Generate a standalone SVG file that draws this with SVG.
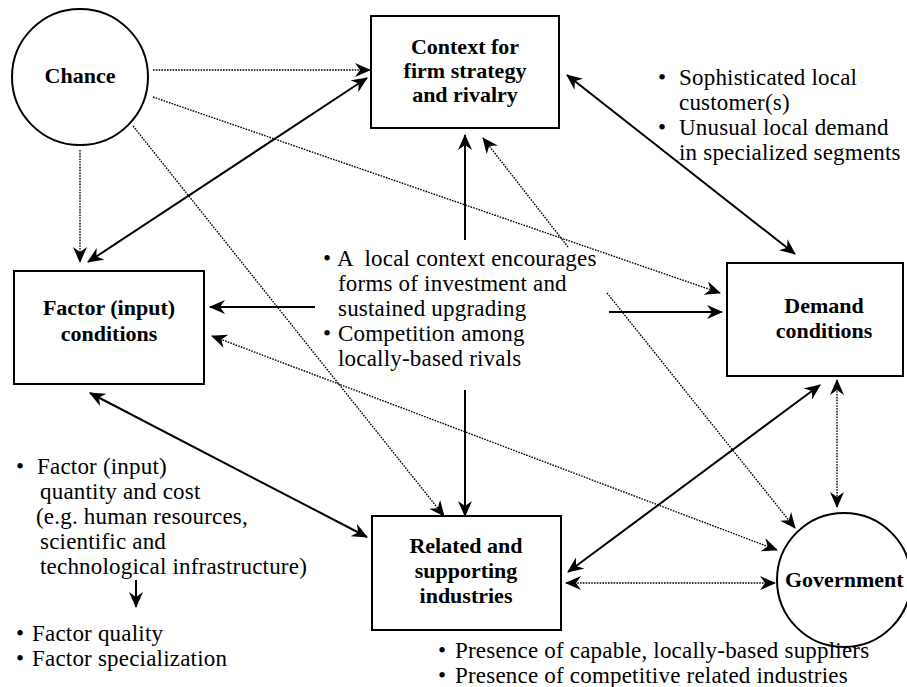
<svg xmlns="http://www.w3.org/2000/svg" width="907" height="687" viewBox="0 0 907 687">
<style>
.box{fill:#fff;stroke:#000;stroke-width:2}
.lbl{font-family:"Liberation Serif","Times New Roman",serif;font-size:22px;font-weight:bold;fill:#000}
.txt{font-family:"Liberation Serif","Times New Roman",serif;font-size:23px;fill:#000;letter-spacing:0.2px}
.s{fill:none;stroke:#000;stroke-width:2}
.d{fill:none;stroke:#000;stroke-width:1.4;stroke-dasharray:1.6 1.2}
</style>
<defs>
<marker id="ah" viewBox="0 0 16 14" refX="15" refY="7" markerWidth="16" markerHeight="14" markerUnits="userSpaceOnUse" orient="auto-start-reverse">
<path d="M0,0 L16,7 L0,14 L5,7 z" fill="#000"/>
</marker>
</defs>
<rect width="907" height="687" fill="#fff"/>
<g id="connectors">
<line class="d" x1="153" y1="70" x2="370" y2="70" marker-end="url(#ah)"/>
<line class="d" x1="80" y1="150" x2="80" y2="262" marker-end="url(#ah)"/>
<line class="s" x1="367" y1="78" x2="88" y2="262" marker-start="url(#ah)" marker-end="url(#ah)"/>
<line class="d" x1="153" y1="97" x2="720" y2="293" marker-end="url(#ah)"/>
<line class="d" x1="133" y1="126" x2="444" y2="516" marker-end="url(#ah)"/>
<line class="s" x1="465" y1="240" x2="465" y2="135" marker-end="url(#ah)"/>
<line class="d" x1="568" y1="247" x2="483" y2="138" marker-end="url(#ah)"/>
<line class="d" x1="607" y1="293" x2="795" y2="528" marker-end="url(#ah)"/>
<line class="s" x1="315" y1="307" x2="210" y2="307" marker-end="url(#ah)"/>
<line class="s" x1="609" y1="312" x2="722" y2="312" marker-end="url(#ah)"/>
<line class="s" x1="465" y1="390" x2="465" y2="516" marker-end="url(#ah)"/>
<line class="d" x1="212" y1="336" x2="777" y2="550" marker-start="url(#ah)" marker-end="url(#ah)"/>
<line class="s" x1="90" y1="393" x2="367" y2="537" marker-start="url(#ah)" marker-end="url(#ah)"/>
<line class="s" x1="567" y1="75" x2="795" y2="254" marker-start="url(#ah)" marker-end="url(#ah)"/>
<line class="s" x1="820" y1="385" x2="568" y2="572" marker-start="url(#ah)" marker-end="url(#ah)"/>
<line class="d" x1="837" y1="380" x2="837" y2="507" marker-start="url(#ah)" marker-end="url(#ah)"/>
<line class="d" x1="566" y1="583" x2="775" y2="583" marker-start="url(#ah)" marker-end="url(#ah)"/>
<line class="s" x1="136" y1="580" x2="136" y2="607" marker-end="url(#ah)"/>
</g>
<g id="chance">
<circle class="box" cx="80" cy="77" r="68"/>
<text class="lbl" x="80" y="83" text-anchor="middle">Chance</text>
</g>
<g id="context">
<rect class="box" x="371" y="16" width="188" height="112"/>
<text class="lbl" x="465" y="54" text-anchor="middle">Context for</text>
<text class="lbl" x="465" y="78" text-anchor="middle">firm strategy</text>
<text class="lbl" x="465" y="102" text-anchor="middle">and rivalry</text>
</g>
<g id="factor">
<rect class="box" x="14" y="271" width="190" height="113"/>
<text class="lbl" x="109" y="315" text-anchor="middle">Factor (input)</text>
<text class="lbl" x="109" y="341" text-anchor="middle">conditions</text>
</g>
<g id="demand">
<rect class="box" x="727" y="263" width="176" height="113"/>
<text class="lbl" x="824" y="313" text-anchor="middle">Demand</text>
<text class="lbl" x="824" y="338" text-anchor="middle">conditions</text>
</g>
<g id="related">
<rect class="box" x="372" y="516" width="189" height="114"/>
<text class="lbl" x="466" y="553" text-anchor="middle">Related  and</text>
<text class="lbl" x="466" y="578" text-anchor="middle">supporting</text>
<text class="lbl" x="466" y="603" text-anchor="middle">industries</text>
</g>
<g id="government">
<circle class="box" cx="844" cy="580" r="67"/>
<text class="lbl" x="785" y="587">Government</text>
</g>
<g id="notes-demand" class="txt">
<text x="658" y="85">•</text><text x="679" y="85">Sophisticated local</text>
<text x="679" y="110">customer(s)</text>
<text x="658" y="135">•</text><text x="679" y="135">Unusual local demand</text>
<text x="679" y="160">in specialized segments</text>
</g>
<g id="notes-context" class="txt">
<text x="323" y="266">•</text><text x="337" y="266" xml:space="preserve">A  local context encourages</text>
<text x="338" y="291">forms of investment and</text>
<text x="338" y="316">sustained upgrading</text>
<text x="323" y="341">•</text><text x="338" y="341">Competition among</text>
<text x="338" y="366">locally-based rivals</text>
</g>
<g id="notes-factor" class="txt">
<text x="16" y="474">•</text><text x="37" y="474">Factor (input)</text>
<text x="40" y="499">quantity and cost</text>
<text x="36" y="524">(e.g. human resources,</text>
<text x="40" y="549">scientific and</text>
<text x="40" y="574">technological infrastructure)</text>
<text x="16" y="641">•</text><text x="32" y="641">Factor quality</text>
<text x="16" y="666">•</text><text x="32" y="666">Factor specialization</text>
</g>
<g id="notes-related" class="txt">
<text x="438" y="658">•</text><text x="455" y="658">Presence of capable, locally-based suppliers</text>
<text x="438" y="683">•</text><text x="455" y="683">Presence of competitive related industries</text>
</g>
</svg>
